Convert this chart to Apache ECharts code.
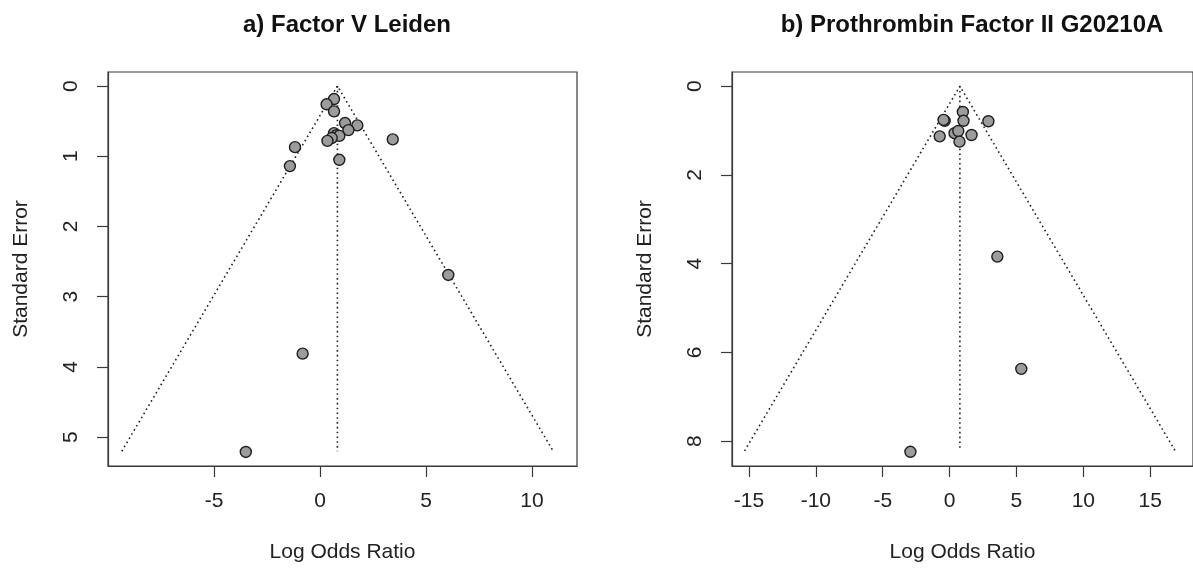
<!DOCTYPE html>
<html>
<head>
<meta charset="utf-8">
<title>Funnel plots</title>
<script src="https://cdn.jsdelivr.net/npm/echarts@6/dist/echarts.min.js"></script>
<style>
  html, body { margin: 0; padding: 0; background: #ffffff; }
  #chart { width: 1193px; height: 571px; }
</style>
</head>
<body>
<div id="chart"></div>
<script>
// Panel a) Factor V Leiden: study log odds ratios and their standard errors
const lorFVL = [0.66, 0.31, 0.66, 1.18, 1.76, 1.34, 0.66, 0.78, 0.91, 0.55, 0.35, 3.43, -1.18, -1.42, 0.91, 6.05, -0.82, -3.5];
const seFVL  = [0.185, 0.26, 0.36, 0.527, 0.56, 0.627, 0.67, 0.70, 0.71, 0.74, 0.78, 0.76, 0.87, 1.14, 1.05, 2.69, 3.81, 5.21];
// funnel limits (pseudo 95% region) around the pooled estimate, panel a
const funnelFVL = [[-9.35, 5.2], [0.82, 0], [11.0, 5.2]];
const centerFVL = [[0.82, 0], [0.82, 5.2]];

// Panel b) Prothrombin Factor II G20210A
const lorPT = [0.99, -0.37, -0.45, 1.04, 2.9, -0.74, 0.37, 0.65, 1.64, 0.74, 3.57, 5.36, -2.93];
const sePT  = [0.58, 0.78, 0.76, 0.78, 0.79, 1.13, 1.06, 1.01, 1.10, 1.25, 3.84, 6.37, 8.24];
const funnelPT = [[-15.33, 8.22], [0.77, 0], [16.87, 8.22]];
const centerPT = [[0.77, 0], [0.77, 8.22]];

// tick labels
const xTicksFVL = [-5, 0, 5, 10];
const yTicksFVL = [0, 1, 2, 3, 4, 5];
const xTicksPT = [-15, -10, -5, 0, 5, 10, 15];
const yTicksPT = [0, 2, 4, 6, 8];

const titles = ['a) Factor V Leiden', 'b) Prothrombin Factor II G20210A'];

const FONT = '"Liberation Sans", Arial, Helvetica, sans-serif';
const INK = '#222222';
const FRAME = '#3a3a3a';

function zip(xs, ys) { return xs.map((x, i) => [x, ys[i]]); }

function xAxisFor(gridIndex, min, max, ticks) {
  return {
    type: 'value', gridIndex, min, max,
    name: 'Log Odds Ratio', nameLocation: 'middle', nameGap: 76,
    nameTextStyle: { fontFamily: FONT, fontSize: 21, color: INK },
    axisLine: { show: true, onZero: false, lineStyle: { color: FRAME, width: 1.2 } },
    axisTick: { show: true, length: 11, customValues: ticks, lineStyle: { color: FRAME, width: 1.2 } },
    axisLabel: { customValues: ticks, margin: 25, fontFamily: FONT, fontSize: 21, color: INK },
    splitLine: { show: false }
  };
}

function yAxisFor(gridIndex, min, max, ticks) {
  return {
    type: 'value', gridIndex, min, max, inverse: true,
    name: 'Standard Error', nameLocation: 'middle', nameGap: 76,
    nameTextStyle: { fontFamily: FONT, fontSize: 21, color: INK },
    axisLine: { show: true, onZero: false, lineStyle: { color: FRAME, width: 1.2 } },
    axisTick: { show: true, length: 11, customValues: ticks, lineStyle: { color: FRAME, width: 1.2 } },
    axisLabel: { customValues: ticks, rotate: 90, margin: 26, fontFamily: FONT, fontSize: 21, color: INK },
    splitLine: { show: false }
  };
}

const dotted = { color: INK, width: 1.6, type: [1.6, 3.2] };

function funnelSeries(idx, pts) {
  return {
    type: 'line', xAxisIndex: idx, yAxisIndex: idx, data: pts,
    symbol: 'none', lineStyle: dotted, silent: true, z: 2, animation: false
  };
}

function pointSeries(idx, pts) {
  return {
    type: 'scatter', xAxisIndex: idx, yAxisIndex: idx, data: pts,
    symbol: 'circle', symbolSize: 11,
    itemStyle: { color: '#9c9c9c', borderColor: '#1e1e1e', borderWidth: 1.4, opacity: 1 },
    z: 5, animation: false
  };
}

const chart = echarts.init(document.getElementById('chart'), null, { renderer: 'canvas' });

chart.setOption({
  backgroundColor: '#ffffff',
  animation: false,
  title: [
    { text: titles[0], left: 342, top: 8, textAlign: 'center',
      textStyle: { fontFamily: FONT, fontSize: 24, fontWeight: 'bold', color: '#111' } },
    { text: titles[1], left: 967, top: 8, textAlign: 'center',
      textStyle: { fontFamily: FONT, fontSize: 24, fontWeight: 'bold', color: '#111' } }
  ],
  grid: [
    { left: 108, right: 616, top: 72, bottom: 105, show: true, borderColor: FRAME, borderWidth: 1.2, backgroundColor: 'transparent' },
    { left: 732, right: -3, top: 72, bottom: 105, show: true, borderColor: FRAME, borderWidth: 1.2, backgroundColor: 'transparent' }
  ],
  xAxis: [
    xAxisFor(0, -10.0, 12.12, xTicksFVL),
    xAxisFor(1, -16.27, 18.2, xTicksPT)
  ],
  yAxis: [
    yAxisFor(0, -0.2, 5.41, yTicksFVL),
    yAxisFor(1, -0.32, 8.56, yTicksPT)
  ],
  series: [
    funnelSeries(0, funnelFVL),
    funnelSeries(0, centerFVL),
    pointSeries(0, zip(lorFVL, seFVL)),
    funnelSeries(1, funnelPT),
    funnelSeries(1, centerPT),
    pointSeries(1, zip(lorPT, sePT))
  ]
});
</script>
</body>
</html>
